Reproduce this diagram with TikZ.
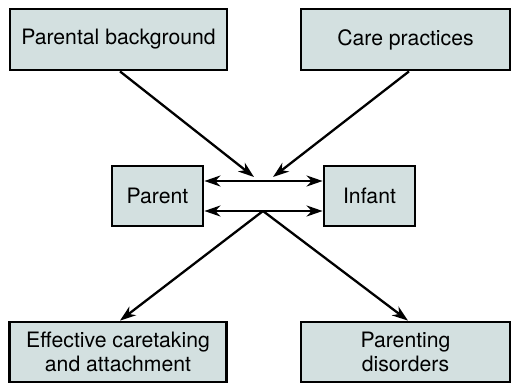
\documentclass[tikz,border=0pt]{standalone}
\usepackage{fontspec}
\setmainfont{TeX Gyre Heros}
\usetikzlibrary{arrows.meta}
\definecolor{boxfill}{RGB}{211,224,224}
\begin{document}
\begin{tikzpicture}[x=1pt,y=-1pt,
  box/.style={draw=black, line width=2.8pt, fill=boxfill, inner sep=0pt,
    align=center, font=\fontsize{21.2}{23.5}\selectfont},
  tip/.style={Stealth[length=16pt,width=11pt,inset=5pt]},
  link/.style={line width=2.3pt, -{Stealth[length=16pt,width=11pt,inset=5pt]}},
  twoway/.style={line width=2.3pt, {Stealth[length=16pt,width=11pt,inset=5pt]}-{Stealth[length=16pt,width=11pt,inset=5pt]}}]
  \useasboundingbox (0,0) rectangle (512,384);

  % source boxes
  \node[box, minimum width=217pt, minimum height=61pt] (pb) at (118.5,39.5) {Parental background};
  \node[box, minimum width=209pt, minimum height=61pt] (cp) at (405.5,39.5) {Care practices};

  % central pair
  \node[box, minimum width=91pt, minimum height=60pt] (par) at (157.5,196) {Parent};
  \node[box, minimum width=91pt, minimum height=60pt] (inf) at (369.5,196) {Infant};

  % outcome boxes
  \node[box, minimum width=217pt, minimum height=60pt] (eff) at (118,352) {Effective caretaking\\and attachment};
  \node[box, minimum width=209pt, minimum height=60pt] (pd) at (405.5,352) {Parenting\\disorders};

  % meeting points on the exchange lines
  \coordinate (inL) at (254,177);
  \coordinate (inR) at (273,177);
  \coordinate (outC) at (263,211);

  % two-way exchange between parent and infant
  \draw[twoway] ([yshift=15pt]par.east) -- ([yshift=15pt]inf.west);
  \draw[twoway] ([yshift=-15pt]par.east) -- ([yshift=-15pt]inf.west);

  % influences
  \draw[link] ([xshift=1.5pt]pb.south) -- (inL);
  \draw[link] ([xshift=3.5pt]cp.south) -- (inR);

  % outcomes
  \draw[link] (outC) -- ([xshift=2pt]eff.north);
  \draw[link] (outC) -- ([xshift=2.5pt]pd.north);
\end{tikzpicture}
\end{document}
